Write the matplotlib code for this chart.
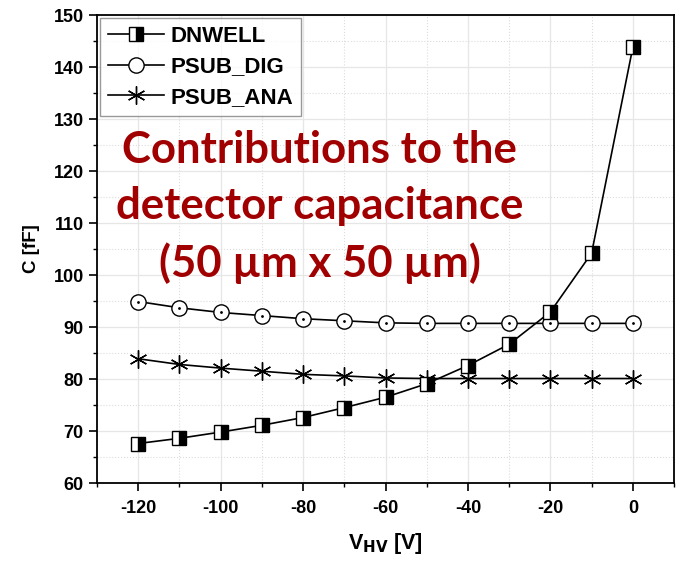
import numpy as np
import matplotlib
matplotlib.use("Agg")
import matplotlib.pyplot as plt
from matplotlib.ticker import MultipleLocator

# bias voltage points and capacitance contributions (fF)
v_hv = [-120, -110, -100, -90, -80, -70, -60, -50, -40, -30, -20, -10, 0]
c_dnwell = [67.6, 68.6, 69.8, 71.1, 72.6, 74.5, 76.5, 79.1, 82.6, 86.7, 92.9, 104.2, 143.8]
c_psub_dig = [94.9, 93.7, 92.8, 92.2, 91.6, 91.2, 90.8, 90.7, 90.7, 90.7, 90.7, 90.7, 90.7]
c_psub_ana = [83.9, 82.8, 82.1, 81.5, 80.9, 80.6, 80.2, 80.1, 80.1, 80.1, 80.1, 80.1, 80.1]

plt.rcParams['font.family'] = ['Liberation Sans', 'DejaVu Sans']
plt.rcParams['axes.unicode_minus'] = False

fig = plt.figure(figsize=(6.79, 5.61), dpi=100)
ax = fig.add_axes([0.1429, 0.139, 0.8498, 0.8342])

ax.plot(v_hv, c_dnwell, color='black', lw=1.2, marker='s', ms=9.5,
        fillstyle='right', markerfacecolor='black', markerfacecoloralt='white',
        markeredgecolor='black', markeredgewidth=1.0, label='DNWELL', zorder=4)
ax.plot(v_hv, c_psub_dig, color='black', lw=1.2, marker='o', ms=11,
        markerfacecolor='white', markeredgecolor='black', markeredgewidth=1.0,
        label='PSUB_DIG', zorder=3)
ax.plot(v_hv, c_psub_dig, ls='none', marker='.', ms=2, color='black', zorder=3)
ax.plot(v_hv, c_psub_ana, color='black', lw=1.2, marker=(6, 2, 0), ms=13,
        markeredgewidth=1.0, label='PSUB_ANA', zorder=3)

ax.set_xlim(-130, 10)
ax.set_ylim(60, 150)
ax.xaxis.set_major_locator(MultipleLocator(20))
ax.xaxis.set_minor_locator(MultipleLocator(10))
ax.yaxis.set_major_locator(MultipleLocator(10))
ax.yaxis.set_minor_locator(MultipleLocator(5))

ax.grid(which='major', color='#e6e6e6', lw=0.9)
ax.grid(which='minor', color='#dcdcdc', lw=0.8, ls=':')
ax.set_axisbelow(True)

ax.tick_params(which='both', direction='out', top=False, right=False)
ax.tick_params(which='major', length=6, width=1.2, labelsize=13)
ax.tick_params(which='minor', length=3, width=1.0)
ax.tick_params(axis='x', which='major', pad=6)
for lab in ax.get_xticklabels() + ax.get_yticklabels():
    lab.set_fontweight('bold')
for sp in ax.spines.values():
    sp.set_linewidth(1.3)

ax.set_xlabel(r'V$_{\mathbf{HV}}$ [V]', fontsize=15.5, fontweight='bold', labelpad=10)
ax.set_ylabel('C [fF]', fontsize=13.5, fontweight='bold', labelpad=10)

leg = ax.legend(loc='upper left', prop={'weight': 'bold', 'size': 16},
                frameon=True, fancybox=False, edgecolor='#808080',
                borderaxespad=0.15, handlelength=2.5, handletextpad=0.3,
                labelspacing=0.42, borderpad=0.35)
leg.get_frame().set_linewidth(1.0)

ax.text(0.386, 0.590, 'Contributions to the\ndetector capacitance\n(50 µm x 50 µm)',
        transform=ax.transAxes, ha='center', va='center', color='#a00000',
        fontsize=31.5, fontweight='bold', family=['Lato', 'DejaVu Sans'],
        linespacing=1.48, zorder=5)

fig.savefig('out.png', dpi=100)
